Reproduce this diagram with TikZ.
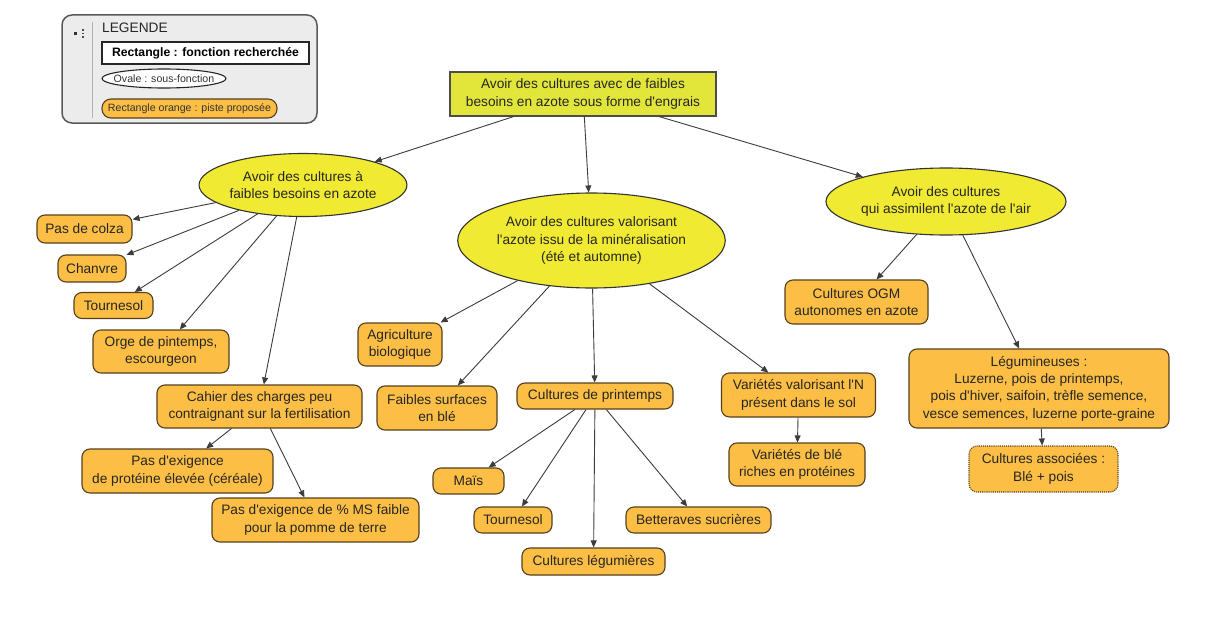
\documentclass[tikz,border=0pt]{standalone}
\usepackage{fontspec}
\setmainfont{Liberation Sans}[Ligatures=TeXOff]
\usetikzlibrary{shapes.geometric,arrows.meta}
\definecolor{orfill}{RGB}{252,190,68}
\definecolor{orline}{RGB}{85,65,30}
\definecolor{yel}{RGB}{240,234,50}
\definecolor{rootyel}{RGB}{226,230,58}
\definecolor{edgecol}{RGB}{60,60,60}
\definecolor{leggray}{RGB}{236,236,236}
\newcommand\mainfnt{\fontsize{13.7}{17.3}\selectfont}
\newcommand\legfnt{\fontsize{10.6}{12}\selectfont}
\tikzset{
  piste/.style={draw=orline, line width=1.1pt, fill=orfill, rounded corners=8pt,
    align=center, inner sep=0pt, font=\mainfnt, text=black!85},
  sousfct/.style={ellipse, draw=black!80, line width=1.1pt, fill=yel,
    align=center, inner sep=0pt, font=\mainfnt, text=black!85},
  fct/.style={draw=black!70, line width=1.1pt, fill=rootyel,
    align=center, inner sep=0pt, font=\mainfnt, text=black!85},
  arr/.style={draw=edgecol, line width=0.9pt, -{Triangle[length=7pt,width=6pt]}},
}
\begin{document}
\begin{tikzpicture}[x=1pt,y=-1pt]
\useasboundingbox (0,0) rectangle (1205,626);
\fill[white] (0,0) rectangle (1205,626);

% legend
\node[draw=black!65, line width=1.5pt, fill=leggray, rounded corners=10pt,
  minimum width=255pt, minimum height=108pt, inner sep=0pt] (legend) at (189.5,69) {};
\draw[black!30, line width=1pt] (92,22) -- (92,118);
\fill[black!80] (73.5,32.5) rectangle (76.5,35.5);
\foreach \yy in {30,33.5,37} \fill[black!70] (81.5,\yy-0.8) rectangle (84,\yy+0.8);
\node[anchor=west, font=\mainfnt, text=black!85, inner sep=0pt] (legtitle) at (102,28) {LEGENDE};
\node[draw=black!85, line width=1.1pt, fill=white, minimum width=207pt, minimum height=22pt,
  inner sep=0pt, font=\fontsize{12.2}{14}\selectfont\bfseries] (legrect) at (205.5,53) {Rectangle : fonction recherchée};
\node[ellipse, draw=black!85, line width=1.1pt, fill=white, minimum width=124pt, minimum height=19pt,
  inner sep=0pt, font=\legfnt, text=black!80] (legoval) at (164,78.5) {\makebox[0pt]{Ovale : sous-fonction}};
\node[draw=orline, line width=1.1pt, fill=orfill, rounded corners=9pt, minimum width=175pt,
  minimum height=19pt, inner sep=0pt, font=\legfnt, text=black!80] (legor) at (189.5,108.5) {Rectangle orange : piste proposée};

% root and sub-functions
\node[fct, minimum width=266pt, minimum height=44pt] (root) at (583,94)
  {Avoir des cultures avec de faibles\\besoins en azote sous forme d'engrais};
\node[sousfct, minimum width=199pt, minimum height=63pt] (e1) at (303,185)
  {Avoir des cultures à\\faibles besoins en azote};
\node[sousfct, minimum width=259pt, minimum height=95pt] (e2) at (591.5,240.5)
  {Avoir des cultures valorisant\\l'azote issu de la minéralisation\\(été et automne)};
\node[sousfct, minimum width=222pt, minimum height=67pt] (e3) at (946,201.5)
  {Avoir des cultures\\qui assimilent l'azote de l'air};

% left branch
\node[piste, minimum width=95pt, minimum height=28pt] (colza) at (84.5,229) {Pas de colza};
\node[piste, minimum width=68pt, minimum height=27pt] (chanvre) at (92,268.5) {Chanvre};
\node[piste, minimum width=79pt, minimum height=26pt] (tournA) at (113.5,305.5) {Tournesol};
\node[piste, minimum width=136pt, minimum height=43pt] (orge) at (161,351.5) {Orge de pintemps,\\escourgeon};
\node[piste, minimum width=205pt, minimum height=43pt] (cahier) at (259.5,406.5)
  {Cahier des charges peu\\contraignant sur la fertilisation};
\node[piste, minimum width=191pt, minimum height=44pt] (prot) at (177.5,471)
  {Pas d'exigence\\de protéine élevée (céréale)};
\node[piste, minimum width=207pt, minimum height=44pt] (ms) at (315.5,520)
  {Pas d'exigence de \% MS faible\\pour la pomme de terre};

% middle branch
\node[piste, minimum width=84pt, minimum height=43pt] (agri) at (400,344.5) {Agriculture\\biologique};
\node[piste, minimum width=120pt, minimum height=44pt] (faibles) at (437,408) {Faibles surfaces\\en blé};
\node[piste, minimum width=156pt, minimum height=26pt] (cdp) at (595,396) {Cultures de printemps};
\node[piste, minimum width=71pt, minimum height=26pt] (mais) at (468.5,481) {Maïs};
\node[piste, minimum width=78pt, minimum height=26pt] (tournB) at (513,520) {Tournesol};
\node[piste, minimum width=143pt, minimum height=27pt] (legum) at (593.5,561.5) {Cultures légumières};
\node[piste, minimum width=145pt, minimum height=26pt] (bett) at (698.5,520) {Betteraves sucrières};
\node[piste, minimum width=154pt, minimum height=44pt] (var) at (798.5,395) {Variétés valorisant l'N\\présent dans le sol};
\node[piste, minimum width=136pt, minimum height=43pt] (varble) at (797,464.5) {Variétés de blé\\riches en protéines};

% right branch
\node[piste, minimum width=143pt, minimum height=44pt] (ogm) at (856.5,302) {Cultures OGM\\autonomes en azote};
\node[piste, minimum width=260pt, minimum height=79pt] (legumin) at (1039,388.5)
  {Légumineuses :\\Luzerne, pois de printemps,\\pois d'hiver, saifoin, trèfle semence,\\vesce semences, luzerne porte-graine};
\node[piste, densely dotted, minimum width=149pt, minimum height=46pt] (assoc) at (1043.5,469)
  {Cultures associées :\\Blé + pois};

% connectors
\draw[arr] (root) -- (e1);
\draw[arr] (root) -- (e2);
\draw[arr] (root) -- (e3);
\draw[arr] (e1) -- (colza);
\draw[arr] (e1) -- (chanvre);
\draw[arr] (e1) -- (tournA);
\draw[arr] (e1) -- (orge);
\draw[arr] (e1) -- (cahier);
\draw[arr] (cahier) -- (prot);
\draw[arr] (cahier) -- (ms);
\draw[arr] (e2) -- (agri);
\draw[arr] (e2) -- (faibles);
\draw[arr] (e2) -- (cdp);
\draw[arr] (e2) -- (var);
\draw[arr] (cdp) -- (mais);
\draw[arr] (cdp) -- (tournB);
\draw[arr] (cdp) -- (legum);
\draw[arr] (cdp) -- (bett);
\draw[arr] (var) -- (varble);
\draw[arr] (e3) -- (ogm);
\draw[arr] (e3) -- (legumin);
\draw[arr] (legumin) -- (assoc);
\end{tikzpicture}
\end{document}
